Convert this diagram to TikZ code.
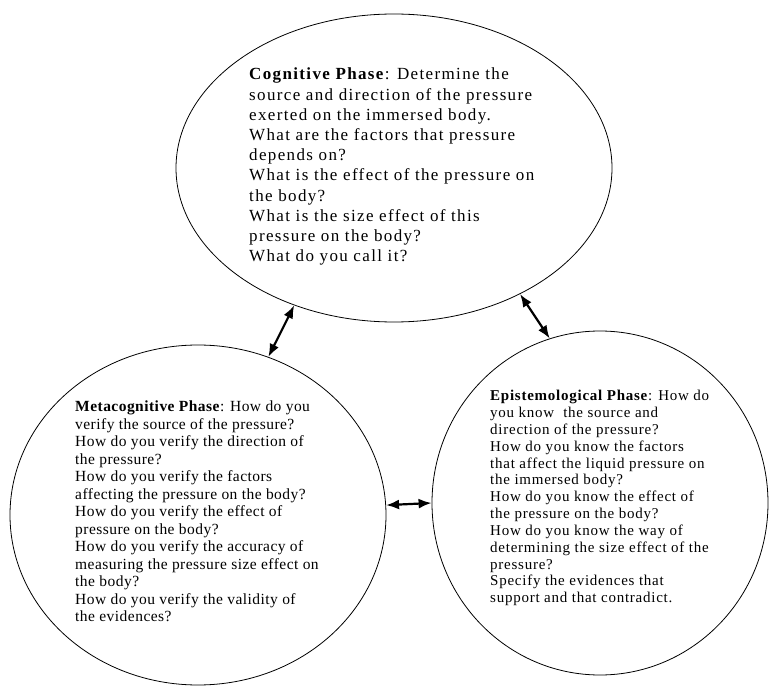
\documentclass[tikz,border=0pt]{standalone}
\usepackage{fontspec}
\setmainfont{Liberation Serif}
\newfontfamily\topf[LetterSpace=8]{Liberation Serif}
\newfontfamily\leftf[LetterSpace=3]{Liberation Serif}
\newfontfamily\rightf[LetterSpace=5]{Liberation Serif}
\usetikzlibrary{shapes.geometric,arrows.meta}
\tikzset{
  phase/.style={ellipse, draw, line width=0.8pt, inner sep=0pt},
  phasetext/.style={anchor=north west, inner sep=0pt, align=left},
  biarrow/.style={line width=2.2pt, {Latex[length=13pt,width=10pt]}-{Latex[length=13pt,width=10pt]}}
}
\begin{document}
\begin{tikzpicture}[x=1pt,y=-1pt]
\useasboundingbox (0,0) rectangle (769,687);
\node[phase, minimum width=436pt, minimum height=308pt] (top) at (394,168) {};
\node[phase, minimum width=376pt, minimum height=340pt] (left) at (198,515) {};
\node[phase, minimum width=336pt, minimum height=344pt] (right) at (600,503) {};

\node[phasetext, font={\topf\fontsize{17}{20.2}\selectfont}] (toptext) at (249,68) {%
\textbf{Cognitive Phase}: Determine the\\
source and direction of the pressure\\
exerted on the immersed body.\\
What are the factors that pressure\\
depends on?\\
What is the effect of the pressure on\\
the body?\\
What is the size effect of this\\
pressure on the body?\\
What do you call it?};

\node[phasetext, font={\leftf\fontsize{15.5}{17.5}\selectfont}] (lefttext) at (75,401) {%
\textbf{Metacognitive Phase}: How do you\\
verify the source of the pressure?\\
How do you verify the direction of\\
the pressure?\\
How do you verify the factors\\
affecting the pressure on the body?\\
How do you verify the effect of\\
pressure on the body?\\
How do you verify the accuracy of\\
measuring the pressure size effect on\\
the body?\\
How do you verify the validity of\\
the evidences?};

\node[phasetext, font={\rightf\fontsize{15}{16.85}\selectfont}] (righttext) at (490,390) {%
\textbf{Epistemological Phase}: How do\\
you know\ \ the source and\\
direction of the pressure?\\
How do you know the factors\\
that affect the liquid pressure on\\
the immersed body?\\
How do you know the effect of\\
the pressure on the body?\\
How do you know the way of\\
determining the size effect of the\\
pressure?\\
Specify the evidences that\\
support and that contradict.};

\draw[biarrow] (top.234.5) -- (left.66.4);
\draw[biarrow] (top.315.7) -- (right.107.7);
\draw[biarrow] (left.3.3) -- (right.180);
\end{tikzpicture}
\end{document}
